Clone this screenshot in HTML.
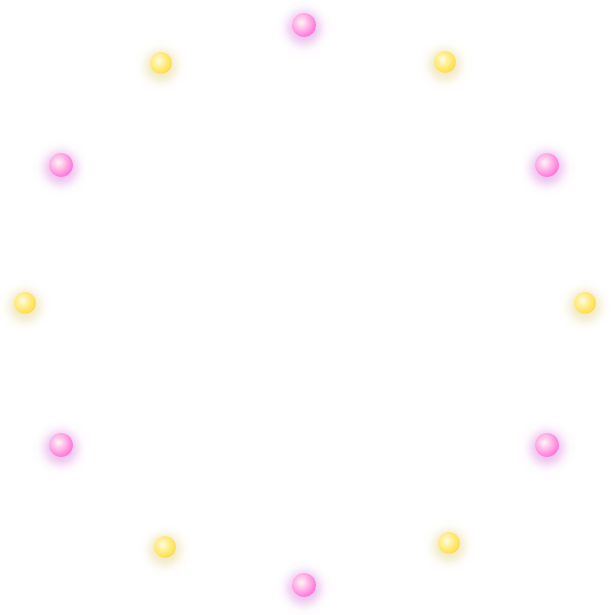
<!DOCTYPE html>
<html><head><style>
html,body{margin:0;padding:0;background:#fff;width:611px;height:615px;overflow:hidden;position:relative}
.d{position:absolute;border-radius:50%;}
.p{width:24px;height:24px;margin:-12px 0 0 -12px;background:radial-gradient(circle at 40% 40%,#fff6f6 0%,#ffb8e8 35%,#ff70d8 75%,#e050c8 100%);box-shadow:0 3px 10px 5px rgba(200,80,200,0.35);}
.y{width:22px;height:22px;margin:-11px 0 0 -11px;background:radial-gradient(circle at 40% 40%,#fffbe8 0%,#ffec80 40%,#ffd840 80%,#f0c020 100%);box-shadow:0 3px 10px 5px rgba(210,180,60,0.3);}
</style></head><body>
<div class="d p" style="left:304px;top:25px"></div>
<div class="d p" style="left:547px;top:165px"></div>
<div class="d p" style="left:547px;top:445px"></div>
<div class="d p" style="left:304px;top:585px"></div>
<div class="d p" style="left:61px;top:445px"></div>
<div class="d p" style="left:61px;top:165px"></div>
<div class="d y" style="left:445px;top:62px"></div>
<div class="d y" style="left:585px;top:303px"></div>
<div class="d y" style="left:449px;top:543px"></div>
<div class="d y" style="left:165px;top:547px"></div>
<div class="d y" style="left:25px;top:303px"></div>
<div class="d y" style="left:161px;top:63px"></div>
</body></html>
